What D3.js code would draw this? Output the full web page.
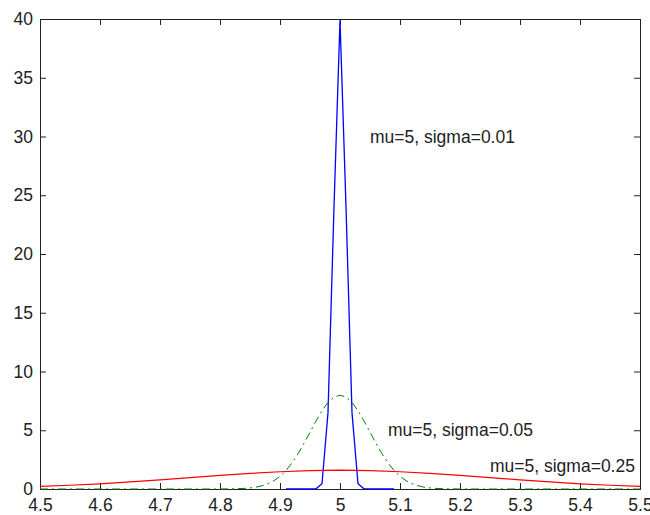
<!DOCTYPE html>
<html>
<head>
<meta charset="utf-8">
<script src="https://cdn.jsdelivr.net/npm/d3@7"></script>
<style>
  body { margin: 0; background: #fff; }
  text { font-family: "Liberation Sans", Arial, sans-serif; font-size: 17.5px; fill: #222; }
</style>
</head>
<body>
<svg width="650" height="515"></svg>
<script>
// ticks
var xTicks = [4.5, 4.6, 4.7, 4.8, 4.9, 5.0, 5.1, 5.2, 5.3, 5.4, 5.5];
var yTicks = [0, 5, 10, 15, 20, 25, 30, 35, 40];

// mu=5, sigma=0.01 (blue)
var blueX = [4.91, 4.95, 4.96, 4.97, 4.98, 4.99, 5.00, 5.01, 5.02, 5.03, 5.04, 5.05, 5.09];
var blueY = [0, 0, 0.02, 0.45, 6.5, 24.0, 39.9, 24.0, 6.5, 0.45, 0.02, 0, 0];

// mu=5, sigma=0.05 (green dash-dot)
var greenX = [4.5, 4.8, 4.81, 4.82, 4.83, 4.84, 4.85, 4.86, 4.87, 4.88, 4.89, 4.9, 4.91, 4.92, 4.93, 4.94, 4.95,
  4.96, 4.97, 4.98, 4.99, 5.0, 5.01, 5.02, 5.03, 5.04, 5.05, 5.06, 5.07, 5.08, 5.09, 5.1, 5.11, 5.12,
  5.13, 5.14, 5.15, 5.16, 5.17, 5.18, 5.19, 5.2, 5.5];
var greenY = [0, 0, 0.01, 0.01, 0.03, 0.05, 0.09, 0.16, 0.27, 0.45, 0.71, 1.08, 1.58, 2.22, 3.0, 3.88, 4.84,
  5.79, 6.67, 7.37, 7.82, 7.98, 7.82, 7.37, 6.67, 5.79, 4.84, 3.88, 3.0, 2.22, 1.58, 1.08, 0.71, 0.45,
  0.27, 0.16, 0.09, 0.05, 0.03, 0.01, 0.01, 0, 0];

// mu=5, sigma=0.25 (red)
var redX = [4.5, 4.55, 4.6, 4.65, 4.7, 4.75, 4.8, 4.85, 4.9, 4.95, 5.0, 5.05, 5.1, 5.15, 5.2, 5.25, 5.3, 5.35, 5.4, 5.45, 5.5];
var redY = [0.22, 0.32, 0.44, 0.6, 0.78, 0.97, 1.16, 1.33, 1.47, 1.56, 1.6, 1.56, 1.47, 1.33, 1.16, 0.97, 0.78, 0.6, 0.44, 0.32, 0.22];

var labels = [
  {x: 5.05, y: 30, text: "mu=5, sigma=0.01"},
  {x: 5.08, y: 5, text: "mu=5, sigma=0.05"},
  {x: 5.25, y: 2, text: "mu=5, sigma=0.25"}
];

var plotLeft = 40, plotTop = 19, plotRight = 640, plotBottom = 489;
var x = d3.scaleLinear().domain([4.5, 5.5]).range([plotLeft, plotRight]);
var y = d3.scaleLinear().domain([0, 40]).range([plotBottom, plotTop]);

var svg = d3.select('svg');
svg.append('rect').attr('width', 650).attr('height', 515).attr('fill', '#fff');

var line = d3.line().x(function(d) { return x(d[0]); }).y(function(d) { return y(d[1]); });
function pairs(xs, ys) { return xs.map(function(v, i) { return [v, ys[i]]; }); }

// axes box with inward ticks on all sides
var tick = 6;
var xb = d3.axisBottom(x).tickValues(xTicks).tickSize(-tick).tickPadding(tick + 4).tickFormat(d3.format('~g'));
var xt = d3.axisTop(x).tickValues(xTicks).tickSize(-tick).tickFormat('');
var yl = d3.axisLeft(y).tickValues(yTicks).tickSize(-tick).tickPadding(tick + 1);
var yr = d3.axisRight(y).tickValues(yTicks).tickSize(-tick).tickFormat('');

svg.append('g').attr('transform', 'translate(0,' + plotBottom + ')').call(xb);
svg.append('g').attr('transform', 'translate(0,' + plotTop + ')').call(xt);
svg.append('g').attr('transform', 'translate(' + plotLeft + ',0)').call(yl);
svg.append('g').attr('transform', 'translate(' + plotRight + ',0)').call(yr);
svg.selectAll('.domain').attr('stroke', '#222');
svg.selectAll('.tick line').attr('stroke', '#222');
svg.selectAll('.tick text').attr('fill', '#222').style('font-size', '17.5px')
  .style('font-family', '"Liberation Sans", Arial, sans-serif');

// curves
svg.append('path').datum(pairs(blueX, blueY)).attr('d', line)
  .attr('fill', 'none').attr('stroke', '#0000ff').attr('stroke-width', 1.3);
svg.append('path').datum(pairs(greenX, greenY)).attr('d', line)
  .attr('fill', 'none').attr('stroke', '#008000').attr('stroke-width', 1)
  .attr('stroke-dasharray', '8,4,2,4');
svg.append('path').datum(pairs(redX, redY)).attr('d', line)
  .attr('fill', 'none').attr('stroke', '#ff0000').attr('stroke-width', 1.2);

// text annotations
svg.selectAll('text.note').data(labels).enter().append('text')
  .attr('class', 'note')
  .attr('x', function(d) { return x(d.x); })
  .attr('y', function(d) { return y(d.y); })
  .attr('dominant-baseline', 'central')
  .text(function(d) { return d.text; });
</script>
</body>
</html>
